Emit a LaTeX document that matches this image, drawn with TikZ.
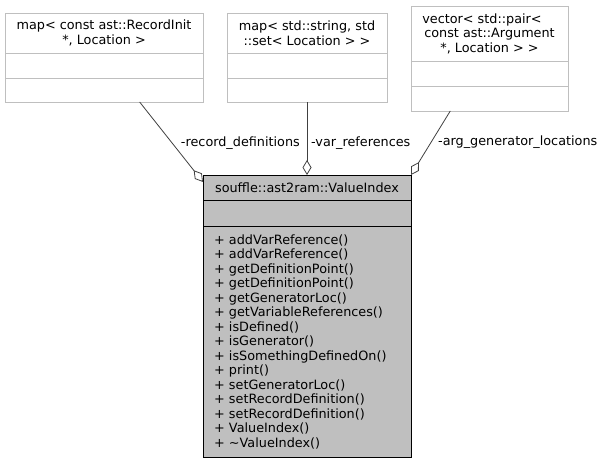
\documentclass[tikz,border=0pt]{standalone}
\usepackage{fontspec}
\setmainfont{DejaVu Sans}
\definecolor{diagray}{RGB}{191,191,191}
\definecolor{diafill}{RGB}{191,191,191}
\definecolor{diaedge}{RGB}{64,64,64}
\usetikzlibrary{arrows.meta,positioning,calc}

\tikzset{
  classpart/.style={draw=diagray,fill=white,line width=0.8pt,inner sep=0pt,outer sep=0pt},
  classhead/.style={classpart,align=center,font=\fontsize{12.8}{14.5}\selectfont},
  mainpart/.style={draw=black,fill=diafill,line width=0.8pt,inner sep=0pt,outer sep=0pt,
    minimum width=208pt,font=\fontsize{12.8}{14.5}\selectfont},
  rolelabel/.style={inner sep=0pt,font=\fontsize{12.8}{14.5}\selectfont},
  usage/.style={diaedge,line width=0.8pt,-{Diamond[open,fill=white,length=15pt,width=9pt]}}
}

\begin{document}
\begin{tikzpicture}[x=1pt,y=-1pt]
        \useasboundingbox (0,0) rectangle (602,463);

        % Klasse map< ... RecordInit ... >
        \node[classhead,minimum width=198pt,minimum height=40pt] (rec) at (104,33)
            {map< const ast::RecordInit\\*, Location >};
        \node[classpart,minimum width=198pt,minimum height=25pt,below=0pt of rec] (recattr) {};
        \node[classpart,minimum width=198pt,minimum height=24pt,below=0pt of recattr] (recops) {};

        % Klasse map< std::string, ... >
        \node[classhead,minimum width=160pt,minimum height=40pt] (var) at (307,33)
            {map< std::string, std\\::set< Location > >};
        \node[classpart,minimum width=160pt,minimum height=25pt,below=0pt of var] (varattr) {};
        \node[classpart,minimum width=160pt,minimum height=24pt,below=0pt of varattr] (varops) {};

        % Klasse vector< std::pair< ... > >
        \node[classhead,minimum width=157pt,minimum height=55pt] (arg) at (489.5,33.5)
            {vector< std::pair<\hspace*{15pt}\\const ast::Argument\\*, Location > >};
        \node[classpart,minimum width=157pt,minimum height=25pt,below=0pt of arg] (argattr) {};
        \node[classpart,minimum width=157pt,minimum height=25pt,below=0pt of argattr] (argops) {};

        % Hauptklasse
        \node[mainpart,minimum height=25pt] (main) at (307,187.5)
            {souffle::ast2ram::ValueIndex};
        \node[mainpart,minimum height=26pt,below=0pt of main] (mainattr) {};
        \node[mainpart,minimum height=231pt,text width=186pt,align=left,
            below=0pt of mainattr] (mainops)
            {+ addVarReference()\\
             + addVarReference()\\
             + getDefinitionPoint()\\
             + getDefinitionPoint()\\
             + getGeneratorLoc()\\
             + getVariableReferences()\\
             + isDefined()\\
             + isGenerator()\\
             + isSomethingDefinedOn()\\
             + print()\\
             + setGeneratorLoc()\\
             + setRecordDefinition()\\
             + setRecordDefinition()\\
             + ValueIndex()\\
             + \textasciitilde ValueIndex()\par\vspace{6pt}};

        % Aggregationen
        \draw[usage] ($(recops.south west)!0.68!(recops.south east)$)
            -- ($(main.north west)+(0,7)$);
        \draw[usage] (varops.south) -- (main.north);
        \draw[usage] ($(argops.south west)!0.25!(argops.south east)$)
            -- (main.north east);

        % Rollen
        \node[rolelabel,anchor=east] (recrole) at (300,143) {-record\_definitions};
        \node[rolelabel,anchor=west] (varrole) at (311,143) {-var\_references};
        \node[rolelabel,anchor=west] (argrole) at (438,142) {-arg\_generator\_locations};

    \end{tikzpicture}
\end{document}
